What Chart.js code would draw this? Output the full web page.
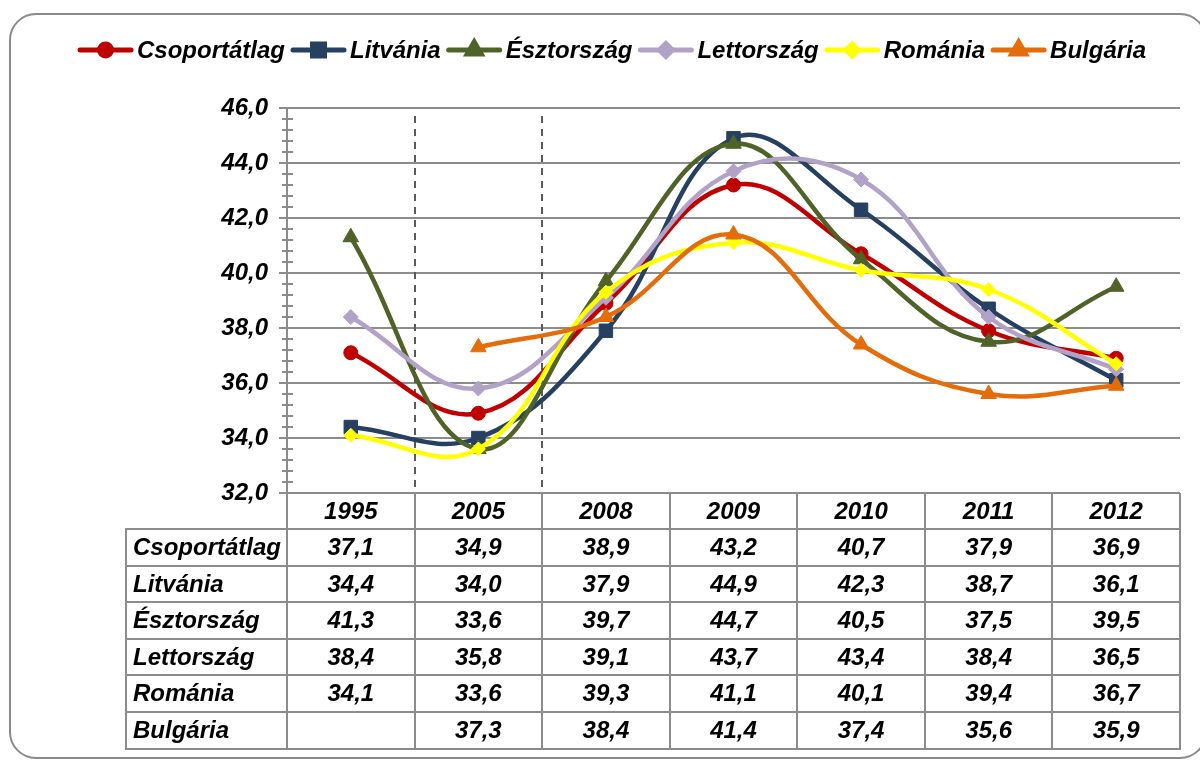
<!DOCTYPE html>
<html><head><meta charset="utf-8">
<script src="https://cdn.jsdelivr.net/npm/chart.js@4"></script>
<style>html,body{margin:0;padding:0;background:#fff;overflow:hidden}#wrap{width:1200px;height:761px;position:relative}</style>
</head><body><div id="wrap"><canvas id="c" width="1200" height="761"></canvas></div>
<script>
const years = ['1995','2005','2008','2009','2010','2011','2012'];
const seriesNames = ['Csoportátlag','Litvánia','Észtország','Lettország','Románia','Bulgária'];
const csoportatlag = [37.1,34.9,38.9,43.2,40.7,37.9,36.9];
const litvania = [34.4,34.0,37.9,44.9,42.3,38.7,36.1];
const esztorszag = [41.3,33.6,39.7,44.7,40.5,37.5,39.5];
const lettorszag = [38.4,35.8,39.1,43.7,43.4,38.4,36.5];
const romania = [34.1,33.6,39.3,41.1,40.1,39.4,36.7];
const bulgaria = [null,37.3,38.4,41.4,37.4,35.6,35.9];
const yMin = 32, yMax = 46, yStep = 2, yMinorStep = 0.4;

const seriesData = [csoportatlag, litvania, esztorszag, lettorszag, romania, bulgaria];
const colors = ['#C00000','#254061','#4F6228','#B3A2C7','#FFFF00','#E46C0A'];
const pStyles = ['circle','rect','triangle','rectRot','rectRot','triangle'];
const pRadius = [7,9.5,9,7.5,7,9];

const FONT = 'bold italic 24px "Liberation Sans", Arial, sans-serif';
const GRID = '#8c8c8c';
const fmt = v => v.toFixed(1).replace('.', ',');

const deco = {
  id:'deco',
  beforeDatasetsDraw(chart){
    const ctx = chart.ctx, ca = chart.chartArea, xs = chart.scales.x, ys = chart.scales.y;
    ctx.save();
    ctx.strokeStyle = '#5a5a5a'; ctx.lineWidth = 2; ctx.setLineDash([7,6]);
    [0,1].forEach(i=>{
      const x = Math.round((xs.getPixelForValue(i)+xs.getPixelForValue(i+1))/2);
      ctx.beginPath(); ctx.moveTo(x, ca.top+8); ctx.lineTo(x, ca.bottom); ctx.stroke();
    });
    ctx.setLineDash([]);
    ctx.strokeStyle = GRID; ctx.lineWidth = 2;
    const n = Math.round((yMax-yMin)/yMinorStep);
    for(let k=0;k<=n;k++){
      if(k%5===0) continue;
      const y = Math.round(ys.getPixelForValue(yMin + k*yMinorStep));
      ctx.beginPath(); ctx.moveTo(ca.left-5, y); ctx.lineTo(ca.left+6, y); ctx.stroke();
    }
    ctx.restore();
  },
  afterDraw(chart){
    const ctx = chart.ctx, ca = chart.chartArea, xs = chart.scales.x;
    ctx.save();
    ctx.strokeStyle = '#8a8a8a'; ctx.lineWidth = 2;
    const L=10, T=14, R=1206, B=758, r=26;
    ctx.beginPath();
    ctx.moveTo(L+r,T); ctx.lineTo(R-r,T); ctx.arcTo(R,T,R,T+r,r); ctx.lineTo(R,B-r);
    ctx.arcTo(R,B,R-r,B,r); ctx.lineTo(L+r,B); ctx.arcTo(L,B,L,B-r,r); ctx.lineTo(L,T+r); ctx.arcTo(L,T,L+r,T,r);
    ctx.stroke();

    ctx.font = FONT; ctx.textBaseline = 'middle'; ctx.textAlign = 'left';
    let lx = 78; const ly = 50;
    chart.data.datasets.forEach((ds,i)=>{
      ctx.strokeStyle = colors[i]; ctx.lineWidth = 5; ctx.lineCap = 'round';
      ctx.beginPath(); ctx.moveTo(lx+2, ly); ctx.lineTo(lx+53, ly); ctx.stroke();
      ctx.lineCap = 'butt';
      ctx.fillStyle = colors[i]; ctx.strokeStyle = colors[i];
      Chart.helpers.drawPoint(ctx, {pointStyle:pStyles[i], radius:pRadius[i]-1, rotation:0, borderWidth:1}, lx+27.5, ly);
      ctx.fillStyle = '#000';
      ctx.fillText(ds.label, lx+59, ly+1);
      lx += 59 + ctx.measureText(ds.label).width + 6;
    });

    const cw = xs.getPixelForValue(1) - xs.getPixelForValue(0);
    const edges = years.map((_,i)=> xs.getPixelForValue(i) - cw/2);
    edges.push(xs.getPixelForValue(years.length-1) + cw/2);
    const hTop = ca.bottom, hH = 36, rH = 36.6, tLeft = 126;
    const nRows = chart.data.datasets.length;
    const tBot = hTop + hH + nRows*rH;
    ctx.strokeStyle = GRID; ctx.lineWidth = 2;
    edges.forEach(x=>{ ctx.beginPath(); ctx.moveTo(Math.round(x), hTop); ctx.lineTo(Math.round(x), tBot); ctx.stroke(); });
    ctx.beginPath(); ctx.moveTo(tLeft, hTop+hH); ctx.lineTo(tLeft, tBot); ctx.stroke();
    for(let k=0;k<=nRows;k++){
      const y = Math.round(hTop + hH + k*rH);
      ctx.beginPath(); ctx.moveTo(tLeft-1, y); ctx.lineTo(edges[edges.length-1]+1, y); ctx.stroke();
    }
    ctx.fillStyle = '#000'; ctx.textAlign = 'center'; ctx.textBaseline = 'middle';
    years.forEach((yr,i)=> ctx.fillText(yr, xs.getPixelForValue(i), hTop + hH/2 + 1));
    chart.data.datasets.forEach((ds,r)=>{
      const cy = hTop + hH + r*rH + rH/2 + 1;
      ctx.textAlign = 'left';
      ctx.fillText(ds.label, tLeft+7, cy);
      ctx.textAlign = 'center';
      ds.data.forEach((v,i)=>{ if(v!==null) ctx.fillText(fmt(v), xs.getPixelForValue(i), cy); });
    });
    ctx.restore();
  }
};

new Chart(document.getElementById('c'), {
  type:'line',
  data:{
    labels: years,
    datasets: seriesNames.map((name,i)=>({
      label: name, data: seriesData[i],
      borderColor: colors[i], backgroundColor: colors[i],
      borderWidth: 4.5, tension: 0.4,
      pointStyle: pStyles[i], pointRadius: pRadius[i],
      pointBackgroundColor: colors[i], pointBorderColor: colors[i], pointBorderWidth: 1,
      order: -i, spanGaps: false
    }))
  },
  options:{
    responsive:false, animation:false, devicePixelRatio:1,
    layout:{padding:{top:108, right:20, left:0, bottom:0}},
    plugins:{legend:{display:false}, tooltip:{enabled:false}},
    scales:{
      x:{offset:true, grid:{display:false}, ticks:{display:false}, border:{display:false},
         afterFit:s=>{s.height = 268;}},
      y:{min:yMin, max:yMax,
         ticks:{stepSize:yStep, callback:v=>fmt(v), color:'#000', padding:11,
                font:{family:'"Liberation Sans", Arial, sans-serif', size:24, weight:'bold', style:'italic'}},
         grid:{color:GRID, lineWidth:2, tickLength:8},
         border:{color:GRID, width:2},
         afterFit:s=>{s.width = 287;}}
    }
  },
  plugins:[deco]
});
</script></body></html>
